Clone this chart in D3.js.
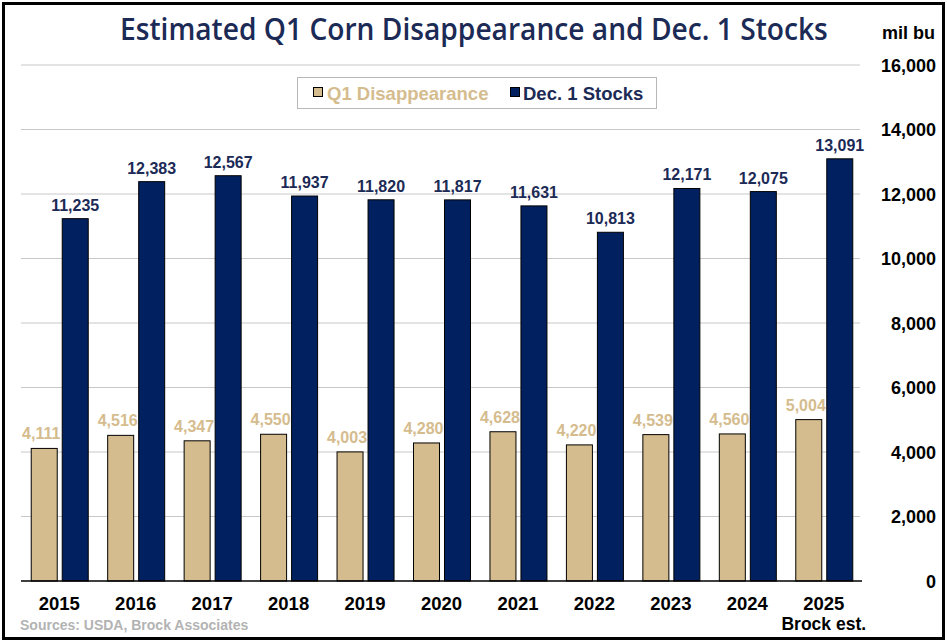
<!DOCTYPE html>
<html><head><meta charset="utf-8">
<script src="https://cdn.jsdelivr.net/npm/d3@7"></script>
<style>body{margin:0;background:#fff}svg{display:block}</style>
</head><body>
<svg id="c" width="947" height="643"></svg>
<script>
const years = ["2015","2016","2017","2018","2019","2020","2021","2022","2023","2024","2025"];
const q1Disappearance = [4111,4516,4347,4550,4003,4280,4628,4220,4539,4560,5004];
const dec1Stocks = [11235,12383,12567,11937,11820,11817,11631,10813,12171,12075,13091];
const yTicks = [0,2000,4000,6000,8000,10000,12000,14000,16000];
const seriesNames = ["Q1 Disappearance","Dec. 1 Stocks"];

const tan = "#d5bc8e", navy = "#002060", titleColor = "#1c2a56";
const FF = "Liberation Sans, Arial, sans-serif";
const svg = d3.select("#c");
svg.append("rect").attr("x",3.5).attr("y",3.5).attr("width",940).attr("height",635)
  .attr("fill","#fff").attr("stroke","#000").attr("stroke-width",3);

const x = d3.scaleBand().domain(years).range([21,862]);
const y = d3.scaleLinear().domain([0,16000]).range([581,65]);
const bw = 26, off = 2;

// gridlines
svg.append("g").selectAll("line").data(yTicks.filter(d=>d>0)).join("line")
  .attr("x1",21).attr("x2",860).attr("y1",d=>y(d)).attr("y2",d=>y(d))
  .attr("stroke","#c8c8c8").attr("stroke-width",1);

// y axis labels
const yAxis = d3.axisRight(y).tickValues(yTicks).tickSize(0).tickFormat(d3.format(","));
const ga = svg.append("g").attr("transform","translate(936,0)").call(yAxis);
ga.select(".domain").remove();
ga.selectAll("text").attr("x",0).attr("dy","0.35em").attr("text-anchor","end")
  .attr("font-family",FF).attr("font-weight","bold")
  .attr("font-size",18).attr("fill","#000");

// bars
const cx = d => x(d) + x.bandwidth()/2;
svg.append("g").selectAll("rect").data(years).join("rect")
  .attr("x",(d)=>cx(d)-off-bw).attr("width",bw)
  .attr("y",(d,i)=>y(q1Disappearance[i])).attr("height",(d,i)=>y(0)-y(q1Disappearance[i]))
  .attr("fill",tan).attr("stroke","#000").attr("stroke-width",1);
svg.append("g").selectAll("rect").data(years).join("rect")
  .attr("x",(d)=>cx(d)+off+1).attr("width",bw)
  .attr("y",(d,i)=>y(dec1Stocks[i])).attr("height",(d,i)=>y(0)-y(dec1Stocks[i]))
  .attr("fill",navy).attr("stroke","#000").attr("stroke-width",1);

// labels
const fmt = d3.format(",");
svg.append("g").selectAll("text").data(years).join("text")
  .attr("x",d=>cx(d)-off-bw/2-3).attr("y",(d,i)=>y(q1Disappearance[i])-9)
  .attr("text-anchor","middle").attr("font-family",FF)
  .attr("font-weight","bold").attr("font-size",16).attr("fill",tan)
  .text((d,i)=>fmt(q1Disappearance[i]));
svg.append("g").selectAll("text").data(years).join("text")
  .attr("x",d=>cx(d)+off+1+bw/2).attr("y",(d,i)=>y(dec1Stocks[i])-8)
  .attr("text-anchor","middle").attr("font-family",FF)
  .attr("font-weight","bold").attr("font-size",16).attr("fill",titleColor)
  .text((d,i)=>fmt(dec1Stocks[i]));

// x axis
svg.append("line").attr("x1",21).attr("x2",862).attr("y1",y(0)).attr("y2",y(0))
  .attr("stroke","#000").attr("stroke-width",1.3);
const xa = d3.axisBottom(x).tickSize(0);
const gx = svg.append("g").attr("transform",`translate(0,${y(0)})`).call(xa);
gx.select(".domain").remove();
gx.selectAll("text").attr("y",29).attr("dy",0)
  .attr("font-family",FF).attr("font-weight","bold")
  .attr("font-size",18.5).attr("fill","#000");
svg.append("text").attr("x",cx("2025")).attr("y",630).attr("text-anchor","middle")
  .attr("font-family",FF).attr("font-weight","bold")
  .attr("font-size",17.5).attr("fill","#000").text("Brock est.");

// title (scaled horizontally to fit the reference width)
const title = svg.append("text").attr("x",0).attr("y",0)
  .attr("font-family","Open Sans, sans-serif").attr("font-weight","600")
  .attr("font-size",31).attr("fill",titleColor)
  .text("Estimated Q1 Corn Disappearance and Dec. 1 Stocks");
const tl = title.node().getComputedTextLength();
title.attr("transform",`translate(120,40) scale(${708/tl},1)`);
svg.append("text").attr("x",935).attr("y",39).attr("text-anchor","end")
  .attr("font-family",FF).attr("font-weight","bold")
  .attr("font-size",18).attr("fill","#000").text("mil bu");

// legend
const lg = svg.append("g");
lg.append("rect").attr("x",297.5).attr("y",77.5).attr("width",359).attr("height",31)
  .attr("fill","#fff").attr("stroke","#b8b8b8");
lg.append("rect").attr("x",313.5).attr("y",87.5).attr("width",9).attr("height",9)
  .attr("fill",tan).attr("stroke","#000");
lg.append("text").attr("x",327).attr("y",100).attr("font-family",FF)
  .attr("font-weight","bold").attr("font-size",18.5).attr("fill",tan).text(seriesNames[0]);
lg.append("rect").attr("x",510.5).attr("y",87.5).attr("width",9).attr("height",9)
  .attr("fill",navy).attr("stroke","#000");
lg.append("text").attr("x",523).attr("y",100).attr("font-family",FF)
  .attr("font-weight","bold").attr("font-size",18.5).attr("fill",titleColor).text(seriesNames[1]);

// source
svg.append("text").attr("x",20).attr("y",630).attr("font-family",FF)
  .attr("font-weight","bold").attr("font-size",14).attr("fill","#b3b3b3")
  .text("Sources: USDA, Brock Associates");
</script>
</body></html>
